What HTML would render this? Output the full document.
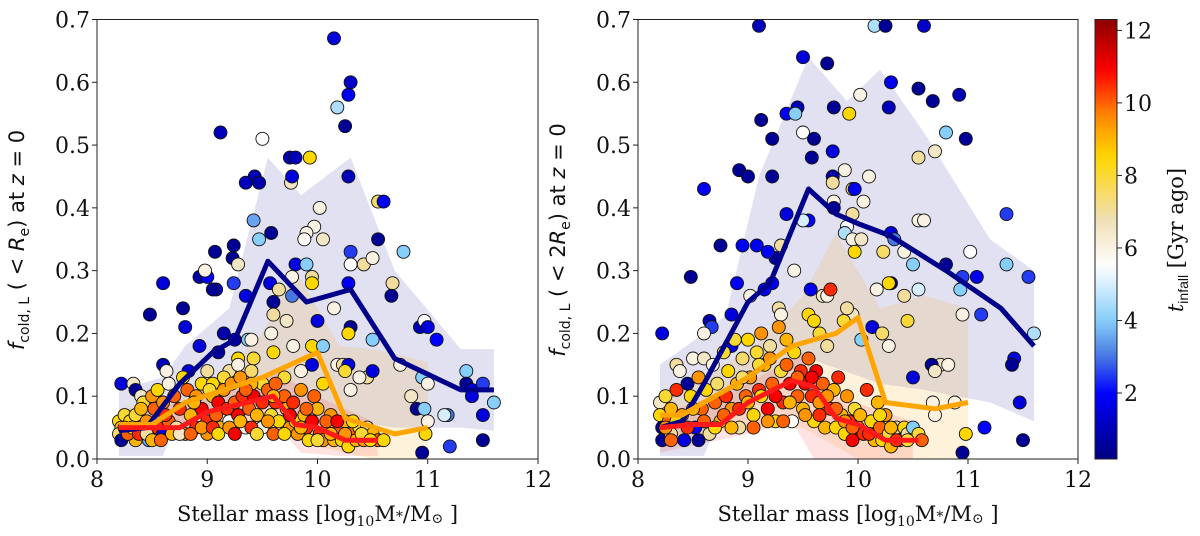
<!DOCTYPE html>
<html><head><meta charset="utf-8"><style>
body{margin:0;background:#fff}
svg{display:block}
text{font-family:"DejaVu Serif","Liberation Serif",serif;fill:#111}
</style></head><body>
<svg id="fig" width="1200" height="536" viewBox="0 0 1200 536"></svg>
<script>
// ---- data ----
const xTicks=[8,9,10,11,12];
const yTicks=[0,0.1,0.2,0.3,0.4,0.5,0.6,0.7];
const cbTicks=[2,4,6,8,10,12];
// points: [mass, fcold, t_infall]
const ptsL=[[10.15,0.67,1.5],[10.3,0.6,1.2],[10.28,0.58,1.8],[10.18,0.56,4.5],[10.25,0.53,0.5],[9.12,0.52,1],[9.5,0.51,5.5],[9.75,0.48,1],[9.8,0.48,1],[9.93,0.48,8.5],[9.43,0.45,1],[9.35,0.44,1],[9.47,0.44,0.8],[9.76,0.44,6.5],[9.77,0.45,1.5],[10.28,0.45,1],[10.55,0.41,7.5],[10.6,0.41,1.8],[9.42,0.38,3.5],[9.47,0.35,4],[9.58,0.36,0.5],[10.02,0.40,6],[9.97,0.37,6],[9.9,0.36,6],[9.88,0.35,5.7],[10.05,0.35,6.5],[10.55,0.35,0.5],[10.78,0.33,4],[9.07,0.33,0.5],[9.24,0.34,0.5],[9.23,0.32,0.5],[9.28,0.31,6.5],[10.3,0.33,2.5],[10.3,0.31,5.5],[10.42,0.31,7],[10.5,0.32,6],[9.8,0.31,1.5],[9.9,0.31,4],[9.77,0.29,6],[9.95,0.29,7],[9.95,0.28,8.5],[8.6,0.28,1.5],[8.93,0.29,0.8],[9.0,0.29,2],[8.98,0.30,6],[9.08,0.27,1.5],[9.05,0.27,0.5],[9.24,0.28,2.5],[9.35,0.26,1.5],[9.57,0.28,1.5],[9.6,0.25,0.5],[9.65,0.27,7],[9.77,0.26,3],[10.28,0.28,1.8],[10.68,0.28,7],[10.67,0.26,0.5],[8.48,0.23,0.5],[8.78,0.24,0.5],[8.8,0.21,1.5],[10.0,0.22,1.5],[10.15,0.24,6],[10.3,0.21,0.5],[10.28,0.2,8.5],[9.25,0.19,0.8],[9.15,0.2,0.8],[9.37,0.19,4],[9.4,0.19,6],[9.6,0.23,7],[9.58,0.2,6],[9.72,0.22,6.5],[10.5,0.19,4],[10.93,0.21,1],[10.97,0.22,5.5],[11.0,0.21,1.5],[11.08,0.19,2],[8.93,0.18,1.5],[9.1,0.17,0.5],[9.28,0.16,8.5],[9.42,0.16,8],[9.6,0.17,8.5],[9.78,0.18,6],[9.95,0.18,8.5],[10.05,0.18,4],[8.6,0.15,1],[8.63,0.14,6],[8.83,0.14,1.5],[9.0,0.14,7],[9.2,0.14,7],[9.28,0.15,6],[9.15,0.13,8],[9.4,0.14,7.5],[9.5,0.12,8],[9.7,0.13,8],[9.85,0.14,6],[9.95,0.15,1.5],[10.18,0.15,6],[10.23,0.15,7],[10.28,0.15,1.5],[10.25,0.14,8],[10.45,0.13,7],[10.38,0.13,6],[10.5,0.14,1.5],[10.75,0.15,6],[10.95,0.13,4],[11.0,0.12,6],[11.35,0.14,4],[11.35,0.12,0.5],[11.4,0.11,1.5],[11.5,0.12,2.5],[11.6,0.09,4],[11.4,0.1,1.5],[11.5,0.07,1.5],[11.5,0.03,0.5],[11.18,0.07,3],[11.15,0.07,5],[11.2,0.02,2.5],[10.95,0.01,0.5],[10.9,0.08,0.5],[10.97,0.08,4],[10.85,0.1,6.5],[11.0,0.06,6],[10.98,0.04,8.5],[10.3,0.11,6],[8.22,0.12,1.5],[8.33,0.12,6.5],[8.35,0.11,0.5],[8.4,0.1,6.5],
[8.2,0.06,8.5],[8.22,0.05,9],[8.25,0.07,8],[8.2,0.04,7.5],[8.22,0.03,0.5],[8.3,0.06,8.5],[8.3,0.04,9.5],[8.35,0.07,8],[8.35,0.03,9],[8.4,0.05,6.5],[8.42,0.09,8],[8.45,0.06,9.5],[8.47,0.03,3.5],[8.5,0.1,9.5],[8.52,0.08,10],[8.55,0.05,10.5],[8.55,0.11,8.5],[8.6,0.09,9.5],[8.6,0.04,1.5],[8.65,0.06,10],[8.65,0.12,6],[8.7,0.1,10],[8.72,0.05,7],[8.75,0.08,10.5],[8.78,0.13,8.5],[8.8,0.04,9.5],[8.82,0.11,10],[8.85,0.07,9],[8.9,0.1,9.5],[8.9,0.05,10.5],[8.95,0.12,8.5],[8.95,0.08,11],[9.0,0.06,10.5],[9.0,0.04,9.5],[9.05,0.1,9],[9.05,0.12,8.5],[9.08,0.07,10],[9.1,0.09,11],[9.12,0.05,9],[9.15,0.11,9.5],[9.18,0.08,10.5],[9.2,0.06,5.5],[9.22,0.12,9.5],[9.25,0.09,10],[9.28,0.07,11],[9.3,0.13,9.5],[9.32,0.1,10.5],[9.35,0.05,6],[9.38,0.08,10],[9.4,0.12,9],[9.42,0.1,11],[9.45,0.07,9],[9.5,0.09,10.5],[9.5,0.05,6],[9.55,0.11,10],[9.58,0.07,8],[9.62,0.12,10],[9.62,0.09,10.5],[9.65,0.06,8.5],[9.7,0.1,10],[9.72,0.08,9],[9.75,0.05,9.5],[9.78,0.09,10.5],[9.8,0.06,8.5],[9.82,0.04,9.5],[9.88,0.07,9],[9.9,0.05,10.5],[9.92,0.03,8.5],[9.95,0.06,11],[9.97,0.1,10],[10.0,0.08,9],[10.02,0.04,10.5],[10.05,0.03,9.5],[10.1,0.05,8.5],[10.12,0.07,9.5],[10.15,0.03,9],[10.2,0.05,10],[10.22,0.03,8.5],[10.25,0.06,9],[10.28,0.02,8.5],[10.3,0.04,10],[10.35,0.03,9],[10.38,0.05,8],[10.42,0.03,9.5],[10.45,0.05,7],[10.5,0.04,9],[10.55,0.03,10],[10.6,0.03,8.5],
[8.25,0.05,9.5],[8.28,0.04,10],[8.32,0.05,8.5],[8.38,0.04,10.5],[8.45,0.04,7],[8.5,0.03,9],[8.58,0.03,10],[8.68,0.04,9],[8.75,0.04,6.5],[8.85,0.04,10],[8.95,0.05,9.5],[9.05,0.05,10.5],[9.1,0.04,8.5],[9.2,0.05,9.5],[9.25,0.04,11],[9.3,0.06,9],[9.4,0.05,10.5],[9.45,0.04,8],[9.55,0.06,9.5],[9.6,0.04,10],[9.7,0.04,8.5],[9.75,0.07,11],[9.85,0.05,9],[9.9,0.08,10],[10.0,0.03,8],[10.08,0.06,10],[10.12,0.04,9],[10.18,0.06,11],[10.25,0.04,9.5],[10.32,0.06,8.5],[10.4,0.04,8],[10.48,0.03,8.5],[8.4,0.08,9],[8.62,0.07,10.5],[8.88,0.09,9],[9.02,0.11,8],[9.35,0.11,10],[9.6,0.1,9],[9.85,0.11,9.5],[10.05,0.12,8.5]];
const ptsR=[[9.1,0.69,1],[10.15,0.69,4.5],[10.25,0.69,0.5],[10.6,0.69,1.2],[9.5,0.64,1.5],[9.72,0.63,0.5],[10.3,0.6,1.8],[10.55,0.59,0.5],[10.68,0.57,0.5],[10.92,0.58,1],[10.28,0.56,1],[10.02,0.58,6],[9.78,0.56,0.5],[9.92,0.55,8.5],[9.35,0.55,1.8],[9.45,0.56,1],[9.43,0.55,4],[9.12,0.54,0.5],[9.5,0.52,5.5],[9.6,0.51,0.5],[9.22,0.51,0.5],[10.98,0.51,0.5],[10.8,0.52,4],[10.55,0.48,7],[10.7,0.49,6.5],[9.58,0.48,0.5],[8.92,0.46,0.5],[9.0,0.45,0.5],[9.22,0.45,0.5],[9.77,0.49,1.5],[9.77,0.45,0.8],[9.77,0.44,7],[9.88,0.46,6],[10.1,0.45,6],[9.95,0.43,7.5],[9.97,0.43,1.8],[10.05,0.41,6],[9.78,0.41,6],[9.78,0.40,0.5],[9.55,0.38,2],[9.5,0.38,5],[9.35,0.39,1.5],[8.6,0.43,1.8],[9.95,0.39,7],[9.9,0.37,5.5],[9.88,0.36,4.5],[9.95,0.35,6],[10.03,0.35,6.5],[10.3,0.36,1.5],[10.33,0.35,3],[10.42,0.33,6],[10.23,0.33,7.5],[9.97,0.33,8.5],[10.55,0.38,6],[10.6,0.38,6],[11.02,0.33,5.5],[11.35,0.39,2.5],[11.35,0.31,4],[11.55,0.29,2.5],[10.8,0.31,0.5],[10.95,0.29,2.5],[10.93,0.27,4],[11.08,0.29,1.8],[10.5,0.31,4],[10.3,0.28,0.5],[10.28,0.28,8.5],[10.17,0.27,6],[10.42,0.26,7],[10.55,0.27,5],[10.45,0.22,8],[10.95,0.23,6],[11.12,0.23,2.5],[11.6,0.2,4.5],[11.42,0.16,1.5],[11.4,0.15,0.5],[11.47,0.09,1.5],[11.5,0.03,0.5],[11.15,0.05,2],[10.95,0.01,0.5],[10.98,0.04,8.5],[10.88,0.09,6],[10.68,0.09,6],[10.7,0.07,6],[10.5,0.13,1.5],[10.75,0.15,6.5],[10.82,0.15,6],[10.67,0.15,0.5],[10.7,0.14,6.5],[10.13,0.21,1.5],[10.22,0.2,7.5],[10.28,0.18,6],[10.03,0.19,4],[9.95,0.23,6.5],[9.9,0.24,7],[9.87,0.22,8],[9.68,0.26,6.5],[9.72,0.26,6],[9.75,0.27,10.5],[9.57,0.27,1.8],[9.42,0.30,6],[9.3,0.34,7],[9.25,0.32,0.5],[9.18,0.33,1.8],[9.08,0.34,1.8],[8.95,0.34,1.8],[8.75,0.34,0.5],[8.48,0.29,0.5],[8.9,0.28,1.8],[9.22,0.28,1.8],[9.15,0.27,1.8],[9.02,0.26,6],[9.55,0.23,8.5],[9.6,0.22,8.5],[9.65,0.2,8],[9.72,0.18,7],[8.22,0.20,1.5],[8.85,0.23,1.5],[8.65,0.22,0.8],[8.67,0.21,2.5],[8.6,0.2,6],[8.85,0.18,1.5],[9.28,0.24,7],[9.3,0.23,6],
[8.2,0.09,6.5],[8.2,0.07,8.5],[8.22,0.05,0.5],[8.22,0.03,0.5],[8.25,0.1,8],[8.28,0.06,10],[8.3,0.08,9],[8.3,0.04,7],[8.35,0.15,7],[8.35,0.11,10.5],[8.38,0.14,6],[8.4,0.07,9.5],[8.42,0.03,1.5],[8.45,0.12,0.5],[8.48,0.1,8.5],[8.5,0.16,6],[8.52,0.05,2],[8.55,0.13,9.5],[8.58,0.08,10],[8.6,0.16,6.5],[8.62,0.11,8.5],[8.65,0.04,7],[8.68,0.15,6],[8.7,0.09,10],[8.72,0.12,7.5],[8.75,0.06,9],[8.78,0.17,8],[8.8,0.1,10.5],[8.82,0.14,8.5],[8.85,0.08,9.5],[8.88,0.19,8],[8.9,0.12,9],[8.92,0.05,7],[8.95,0.16,7.5],[8.98,0.1,10],[9.0,0.19,8.5],[9.02,0.13,9.5],[9.05,0.07,8.5],[9.08,0.17,8],[9.1,0.11,10.5],[9.12,0.2,9.5],[9.15,0.15,9],[9.18,0.08,11],[9.2,0.18,7],[9.22,0.12,10],[9.25,0.06,8.5],[9.28,0.21,9.5],[9.3,0.14,8],[9.32,0.09,10.5],[9.35,0.19,9],[9.38,0.12,11],[9.4,0.06,5.5],[9.42,0.17,8.5],[9.45,0.1,10],[9.48,0.14,10.5],[9.5,0.08,9],[9.52,0.12,11],[9.55,0.16,10],[9.58,0.1,10.5],[9.6,0.06,8.5],[9.62,0.14,11],[9.65,0.09,9.5],[9.68,0.12,10],[9.7,0.05,9],[9.75,0.08,10.5],[9.78,0.11,9],[9.8,0.05,8.5],[9.82,0.13,10.5],[9.85,0.07,9],[9.88,0.04,8.5],[9.9,0.1,9.5],[9.92,0.06,10.5],[9.95,0.03,11],[9.97,0.08,8],[10.0,0.05,9.5],[10.05,0.04,10.5],[10.08,0.11,10.5],[10.12,0.06,8.5],[10.15,0.03,9],[10.18,0.09,9],[10.2,0.05,10],[10.22,0.03,8.5],[10.25,0.07,9.5],[10.28,0.04,8],[10.3,0.02,9],[10.35,0.05,7],[10.38,0.03,9.5],[10.42,0.05,8.5],[10.45,0.04,7],[10.5,0.05,4],[10.55,0.04,8],[10.58,0.03,10],
[8.25,0.05,9.5],[8.3,0.03,10],[8.35,0.06,8.5],[8.45,0.05,10.5],[8.5,0.08,9],[8.55,0.03,0.5],[8.6,0.06,10],[8.7,0.05,8.5],[8.78,0.07,10],[8.85,0.05,9],[8.92,0.08,10.5],[9.0,0.09,9],[9.05,0.05,10],[9.12,0.1,8.5],[9.18,0.06,9.5],[9.25,0.1,11],[9.32,0.06,10],[9.38,0.09,9],[9.45,0.13,10],[9.52,0.07,9.5],[9.58,0.13,11],[9.65,0.07,10.5],[9.72,0.1,9.5],[9.8,0.08,10],[9.88,0.06,9.5],[9.95,0.05,10],[10.02,0.07,9],[10.1,0.04,10.5],[10.2,0.07,8.5],[10.3,0.05,9],[10.35,0.03,10.5],[10.45,0.03,8],[9.1,0.15,8],[9.2,0.16,9.5],[9.35,0.15,10],[8.95,0.13,7.5]];
// median lines per t_infall group
const lineBlueL=[[8.2,0.045],[8.45,0.05],[8.75,0.12],[9.05,0.17],[9.25,0.19],[9.55,0.315],[9.9,0.25],[10.3,0.27],[10.7,0.16],[11.3,0.11],[11.6,0.11]];
const lineOrangeL=[[8.2,0.055],[8.5,0.055],[8.8,0.09],[9.5,0.13],[10.0,0.17],[10.25,0.065],[10.7,0.04],[11.0,0.05]];
const lineRedL=[[8.2,0.05],[8.5,0.05],[8.75,0.05],[9.0,0.075],[9.6,0.10],[9.8,0.055],[10.0,0.05],[10.25,0.03],[10.55,0.03]];
const lineBlueR=[[8.2,0.05],[8.4,0.06],[8.6,0.12],[9.0,0.25],[9.2,0.28],[9.55,0.43],[9.8,0.39],[10.0,0.375],[10.3,0.355],[10.8,0.3],[11.3,0.24],[11.6,0.18]];
const lineOrangeR=[[8.2,0.07],[8.4,0.07],[8.7,0.1],[9.0,0.13],[9.4,0.18],[9.8,0.2],[10.0,0.225],[10.25,0.09],[10.7,0.08],[11.0,0.09]];
const lineRedR=[[8.2,0.05],[8.5,0.055],[8.75,0.055],[9.0,0.09],[9.4,0.125],[9.6,0.115],[9.8,0.065],[10.0,0.055],[10.25,0.03],[10.55,0.03]];
// scatter bands: upper then lower
const bandBlueLUp=[[8.2,0.11],[8.6,0.13],[8.8,0.18],[9.2,0.24],[9.55,0.48],[9.85,0.42],[10.3,0.48],[10.7,0.3],[11.3,0.175],[11.6,0.175]];
const bandBlueLLo=[[8.2,0.005],[8.6,0.005],[8.7,0.05],[9.1,0.08],[9.6,0.09],[9.9,0.04],[10.3,0.06],[10.7,0.05],[11.3,0.05],[11.6,0.045]];
const bandOrLUp=[[8.2,0.08],[9.0,0.11],[9.5,0.2],[9.8,0.3],[10.2,0.18],[10.5,0.175],[11.0,0.155]];
const bandOrLLo=[[8.2,0.03],[9.0,0.04],[9.5,0.05],[10,0.02],[10.5,0.0],[11,0.0]];
const bandRedLUp=[[8.2,0.07],[9,0.1],[9.6,0.14],[10,0.1],[10.5,0.06]];
const bandRedLLo=[[8.2,0.03],[9,0.04],[9.6,0.06],[9.85,0.01],[10.2,0.005],[10.55,0.005]];
const bandBlueRUp=[[8.2,0.15],[8.6,0.2],[8.8,0.23],[9.1,0.45],[9.55,0.64],[9.9,0.57],[10.2,0.62],[10.6,0.52],[11.2,0.35],[11.6,0.3]];
const bandBlueRLo=[[8.2,0.005],[8.6,0.005],[8.7,0.05],[9.1,0.1],[9.55,0.16],[10.2,0.12],[10.6,0.11],[11.2,0.09],[11.6,0.06]];
const bandOrRUp=[[8.2,0.1],[9.0,0.17],[9.5,0.26],[9.8,0.36],[10.2,0.24],[10.6,0.26],[11,0.24]];
const bandOrRLo=[[8.2,0.03],[9,0.05],[9.5,0.05],[10,0.0],[11,0.0]];
const bandRedRUp=[[8.2,0.07],[9,0.12],[9.5,0.17],[9.8,0.1],[10.5,0.06]];
const bandRedRLo=[[8.2,0.01],[9,0.04],[9.4,0.06],[9.6,0.0],[10.5,0.0]];

// ---- rendering ----
const NS='http://www.w3.org/2000/svg';
const svg=document.getElementById('fig');
function mk(tag,attrs,parent){const e=document.createElementNS(NS,tag);for(const k in attrs)e.setAttribute(k,attrs[k]);(parent||svg).appendChild(e);return e;}
const stops=[[0.2,[0,0,128]],[2,[0,0,255]],[3,[70,120,225]],[4,[135,206,250]],[5.5,[255,255,255]],[6.8,[240,222,180]],[8.5,[255,215,0]],[9.6,[255,140,0]],[10.9,[255,0,0]],[12.3,[139,0,0]]];
function cmap(t){if(t<=stops[0][0])return 'rgb('+stops[0][1]+')';for(let i=1;i<stops.length;i++){if(t<=stops[i][0]){const a=stops[i-1],b=stops[i],f=(t-a[0])/(b[0]-a[0]);return 'rgb('+a[1].map((v,j)=>Math.round(v+(b[1][j]-v)*f)).join(',')+')';}}return 'rgb('+stops[stops.length-1][1]+')';}
const Y0=459,Y1=19.5;
function yS(v){return Y0-(v/0.7)*(Y0-Y1);}
function panel(name,x0,x1,pts,bands,lines,ylab){
  const g=mk('g',{});
  
  
  const xS=v=>x0+(v-8)/4*(x1-x0);
  const cp='clip-'+name;
  const defs=mk('defs',{},g);const c=mk('clipPath',{id:cp},defs);mk('rect',{x:x0,y:Y1,width:x1-x0,height:Y0-Y1},c);
  const inner=mk('g',{'clip-path':'url(#'+cp+')'},g);
  bands.forEach(([up,lo,col,nm])=>{
    const d=up.concat(lo.slice().reverse()).map((p,i)=>(i?'L':'M')+xS(p[0]).toFixed(1)+','+yS(p[1]).toFixed(1)).join('')+'Z';
    const p=mk('path',{d:d,fill:col,'fill-opacity':0.14},inner);
    
    
  });
  pts.forEach(p=>{
    const c=mk('circle',{cx:xS(p[0]).toFixed(1),cy:yS(p[1]).toFixed(1),r:6.5,fill:cmap(p[2]),stroke:'#111','stroke-width':0.9},inner);
    
    
  });
  lines.forEach(([ln,col,nm])=>{
    const l=mk('polyline',{points:ln.map(p=>xS(p[0]).toFixed(1)+','+yS(p[1]).toFixed(1)).join(' '),fill:'none',stroke:col,'stroke-width':5,'stroke-linejoin':'round'},inner);
    
    
  });
  mk('rect',{x:x0,y:Y1,width:x1-x0,height:Y0-Y1,fill:'none',stroke:'#222','stroke-width':1},g);
  xTicks.forEach(t=>{const x=xS(t);mk('line',{x1:x,x2:x,y1:Y0,y2:Y0+5,stroke:'#222'},g);
    const tx=mk('text',{x:x,y:Y0+28,'text-anchor':'middle','font-size':22},g);tx.textContent=t;
    
    });
  yTicks.forEach(t=>{const y=yS(t);mk('line',{x1:x0-5,x2:x0,y1:y,y2:y,stroke:'#222'},g);
    const tx=mk('text',{x:x0-7,y:y+8,'text-anchor':'end','font-size':22},g);tx.textContent=t.toFixed(1);
    
    });
  const xt=mk('text',{x:(x0+x1)/2,y:521,'text-anchor':'middle','font-size':21},g);
  xt.innerHTML='Stellar mass [log<tspan font-size="14" dy="5">10</tspan><tspan dy="-5">M</tspan><tspan font-size="14">*</tspan>/M<tspan font-size="14" dy="2">⊙</tspan><tspan dy="-2"> ]</tspan>';
  
  
  const yt=mk('text',{transform:'translate('+(x0-73)+',240) rotate(-90)','text-anchor':'middle','font-size':21,style:'font-family:"DejaVu Sans","Liberation Sans",sans-serif'},g);
  yt.innerHTML='<tspan font-style="italic">f</tspan><tspan font-size="14" dy="5">cold, L</tspan><tspan dy="-5"> ( &lt; '+ylab+'</tspan><tspan font-size="14" dy="5">e</tspan><tspan dy="-5">) at </tspan><tspan font-style="italic">z</tspan> = 0';
  
  
}
panel('left-panel',97,538,ptsL,[[bandBlueLUp,bandBlueLLo,'#2a2aa0','band-early'],[bandOrLUp,bandOrLLo,'#ffa500','band-mid'],[bandRedLUp,bandRedLLo,'#ff3030','band-late']],[[lineBlueL,'#00008b','median-early'],[lineOrangeL,'#ffa500','median-mid'],[lineRedL,'#ff1a1a','median-late']],'<tspan font-style="italic">R</tspan>');
panel('right-panel',638,1078,ptsR,[[bandBlueRUp,bandBlueRLo,'#2a2aa0','band-early'],[bandOrRUp,bandOrRLo,'#ffa500','band-mid'],[bandRedRUp,bandRedRLo,'#ff3030','band-late']],[[lineBlueR,'#00008b','median-early'],[lineOrangeR,'#ffa500','median-mid'],[lineRedR,'#ff1a1a','median-late']],'2<tspan font-style="italic">R</tspan>');
// colorbar
const cb=mk('g',{});


const df=mk('defs',{},cb);const lg=mk('linearGradient',{id:'cbg',x1:0,y1:1,x2:0,y2:0},df);
const cbMin=0.18,cbMax=12.3;
for(let t=cbMin;t<=cbMax+0.01;t+=0.3){mk('stop',{offset:((t-cbMin)/(cbMax-cbMin)).toFixed(3),'stop-color':cmap(t)},lg);}
mk('rect',{x:1095,y:Y1,width:22,height:Y0-Y1,fill:'url(#cbg)',stroke:'#222','stroke-width':1},cb);
const cbY=v=>Y0-(v-cbMin)/(cbMax-cbMin)*(Y0-Y1);
cbTicks.forEach(t=>{const y=cbY(t);mk('line',{x1:1117,x2:1122,y1:y,y2:y,stroke:'#222'},cb);
  const tx=mk('text',{x:1124,y:y+8,'font-size':22},cb);tx.textContent=t;
  
  });
const ct=mk('text',{transform:'translate(1183,240) rotate(-90)','text-anchor':'middle','font-size':21},cb);
ct.innerHTML='<tspan font-style="italic">t</tspan><tspan font-size="14" dy="5" style="font-family:Liberation Sans,sans-serif">infall</tspan><tspan dy="-5"> [Gyr ago]</tspan>';


</script>
</body></html>
